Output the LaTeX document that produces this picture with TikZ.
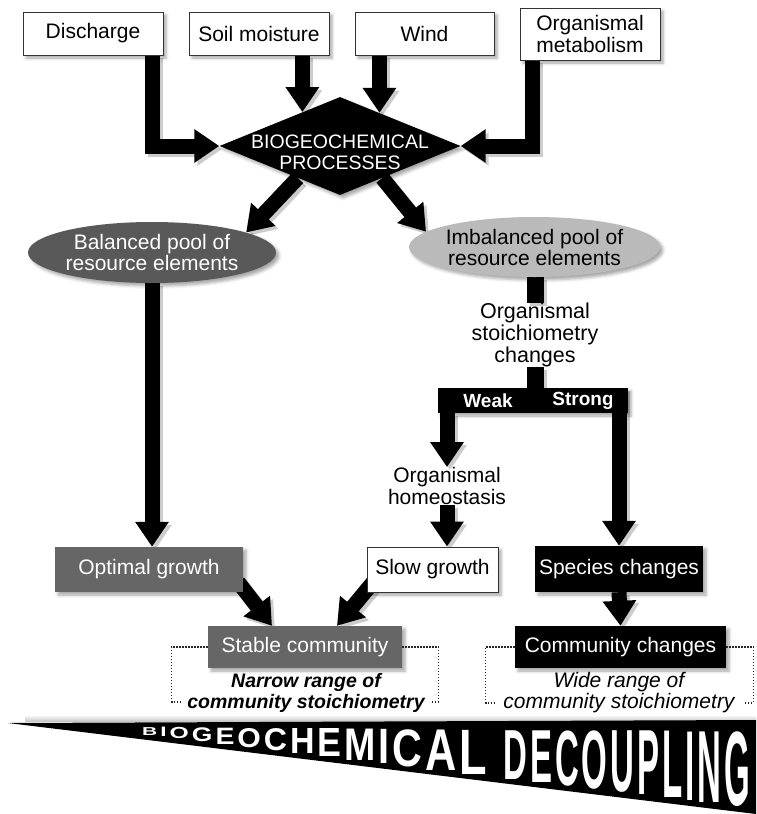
\documentclass[tikz,border=0pt]{standalone}
\usepackage{fontspec}
\setmainfont{Liberation Sans}
\usepackage{graphicx}
\usetikzlibrary{arrows.meta,shapes.geometric,shadows.blur,calc}
\pgfdeclarelayer{shadowlayer}
\pgfdeclarelayer{bg}
\pgfsetlayers{shadowlayer,bg,main}
\tikzset{
  barrow/.style={line width=15pt,-{Triangle[width=32pt,length=25pt]},line join=miter},
  barline/.style={line width=17pt},
  shad/.style={blur shadow={shadow xshift=3pt,shadow yshift=-3pt,shadow blur radius=3pt,shadow opacity=35}},
  boxfont/.style={font={\fontsize{21}{22}\selectfont}},
  topbox/.style={draw=black!80,line width=0.9pt,fill=white,inner sep=0pt,align=center,boxfont,shad},
  gbox/.style={fill=black!60,text=white,inner sep=0pt,align=center,boxfont,shad},
  kbox/.style={fill=black,text=white,inner sep=0pt,align=center,boxfont,shad},
  pool/.style={ellipse,inner sep=0pt,align=center,font={\fontsize{21}{21}\selectfont},shad},
  plain/.style={inner sep=0pt,align=center,font={\fontsize{21.5}{22}\selectfont}},
  wlab/.style={inner sep=0pt,text=white,font={\bfseries\fontsize{19}{19}\selectfont}},
  brk/.style={draw=black!85,line width=1.3pt,dash pattern=on 1.4pt off 1.6pt},
}
\newcommand\blockarr[2]{%
  \begin{pgfonlayer}{shadowlayer}\draw[barrow,draw=black!20,transform canvas={shift={(3pt,-3pt)}}] #2;\end{pgfonlayer}%
  \begin{pgfonlayer}{#1}\draw[barrow] #2;\end{pgfonlayer}}
\begin{document}
\begin{tikzpicture}[x=1pt,y=-1pt]
\useasboundingbox (0,0) rectangle (756,814);

% top boxes
\node[topbox,minimum width=140pt,minimum height=43pt] (dis) at (93,33.5) {Discharge};
\node[topbox,minimum width=140pt,minimum height=43pt] (soil) at (259,33.5) {Soil moisture};
\node[topbox,minimum width=139pt,minimum height=43pt] (wind) at (424.5,33.5) {Wind};
\node[topbox,minimum width=140pt,minimum height=52pt] (met) at (590,34) {Organismal\\metabolism};

% diamond
\node[diamond,fill=black,minimum width=241pt,minimum height=98pt,inner sep=0pt,shad] (bgc) at (340,146) {};
\node[text=white,align=center,inner sep=0pt,font={\fontsize{19.5}{21}\selectfont}] (bgct) at (340,152) {BIOGEOCHEMICAL\\PROCESSES};

% pools
\node[pool,fill=black!65,text=white,minimum width=248pt,minimum height=61pt] (bal) at (152,252.5) {Balanced pool of\\resource elements};
\node[pool,fill=black!27,minimum width=243pt,minimum height=60pt] (imb) at (534.5,247) {Imbalanced pool of\\resource elements};

\node[plain] (osc) at (535,335) {Organismal\\stoichiometry\\changes};

\node[fill=black,minimum width=190pt,minimum height=25pt,inner sep=0pt,shad] (band) at (533,400.5) {};
\node[wlab] (weak) at (488,401) {Weak};
\node[wlab] (strong) at (583,401) {Strong};

\node[plain,font={\fontsize{21}{22}\selectfont}] (hom) at (447,486) {Organismal\\homeostasis};

% lower boxes
\node[gbox,minimum width=188pt,minimum height=45pt] (opt) at (149,569.5) {Optimal growth};
\node[topbox,minimum width=131pt,minimum height=45pt] (slow) at (432.5,569.5) {Slow growth};
\node[kbox,minimum width=168pt,minimum height=46pt] (spc) at (619,569) {Species changes};
\node[gbox,minimum width=194pt,minimum height=42pt] (stab) at (305,647) {Stable community};
\node[kbox,minimum width=211pt,minimum height=42pt] (com) at (620.5,647) {Community changes};

\node[align=center,inner sep=0pt,font={\bfseries\itshape\fontsize{19.5}{20.5}\selectfont}] (nar) at (306,693) {Narrow range of\\community stoichiometry};
\node[align=center,inner sep=0pt,font={\itshape\fontsize{21}{21}\selectfont}] (wide) at (619,692.5) {Wide range of\\community stoichiometry};

% dotted brackets
\draw[brk] (stab.west) -| ++(-36,55) -- ++(10,0);
\draw[brk] (stab.east) -| ++(36,55) -- ++(-6,0);
\draw[brk] (com.west) -| ++(-29,56) -- ++(9,0);
\draw[brk] (com.east) -| ++(27,56) -- ++(-8,0);

% arrows
\blockarr{bg}{([xshift=59pt]dis.south) |- (bgc.west)}
\blockarr{bg}{(bgc.138 |- soil.south) -- (bgc.138)}
\blockarr{bg}{(bgc.40 |- wind.south) -- (bgc.40)}
\blockarr{bg}{([xshift=-58pt]met.south) |- (bgc.east)}
\blockarr{main}{($(bgc.south west)!0.3!(bgc.south)$) -- (bal.12)}
\blockarr{main}{($(bgc.south east)!0.3!(bgc.south)$) -- (imb.172)}
\blockarr{bg}{(bal.south) -- (bal.south |- opt.north)}
\begin{pgfonlayer}{shadowlayer}
\draw[barline,draw=black!20,transform canvas={shift={(3pt,-3pt)}}] (osc.north |- imb.south) -- (osc.north);
\draw[barline,draw=black!20,transform canvas={shift={(3pt,-3pt)}}] (osc.south) -- (osc.south |- band.north);
\end{pgfonlayer}
\begin{pgfonlayer}{bg}
\draw[barline] (osc.north |- imb.south) -- (osc.north);
\draw[barline] (osc.south) -- (osc.south |- band.north);
\end{pgfonlayer}
\blockarr{bg}{(hom.north |- band.south) -- (hom.north)}
\blockarr{main}{(spc.north |- band.north) -- (spc.north)}
\blockarr{bg}{(hom.south) -- (hom.south |- slow.north)}
\blockarr{bg}{(spc.south) -- (com.north)}
\blockarr{bg}{([xshift=-5pt,yshift=10pt]opt.south east) -- ([xshift=-33pt]stab.north)}
\blockarr{bg}{([xshift=8pt,yshift=12pt]slow.south west) -- ([xshift=32pt]stab.north)}

% bottom wedge
\begin{pgfonlayer}{bg}
\shade[top color=white,bottom color=black!22] (25,715) rectangle (756,721);
\end{pgfonlayer}
\fill[black] (8,723) -- (756,720) -- (756,814) -- cycle;
\foreach \lettr/\xl/\xr [count=\i] in {B/142.0/157.2, I/160.2/166.5, O/169.5/188.7, G/191.7/212.3, E/215.3/234.2, O/237.2/260.7, C/263.7/286.9, H/289.9/314.4, E/317.4/341.3, M/344.3/375.6, I/378.6/389.6, C/392.6/422.4, A/425.4/456.6, L/459.6/487.1, D/503/526.8, E/529.8/551.8, C/554.8/578.6, O/581.6/607.3, U/610.3/634.1, P/637.1/659.1, L/662.1/682.3, I/685.3/694.5, N/697.5/721.3, G/724.3/750}{
  \pgfmathsetmacro\dcx{(\xl+\xr)/2}
  \pgfmathsetmacro\dct{727+0.008*(\dcx-140)}
  \pgfmathsetmacro\dcb{735+0.12*(\dcx-150)}
  \pgfmathsetmacro\dcw{\xr-\xl}
  \pgfmathsetmacro\dch{\dcb-\dct}
  \node[anchor=north west,inner sep=0pt,text=white] (dl\i) at (\xl,\dct) {\resizebox{\dcw pt}{\dch pt}{\bfseries\lettr}};
}
\end{tikzpicture}
\end{document}
